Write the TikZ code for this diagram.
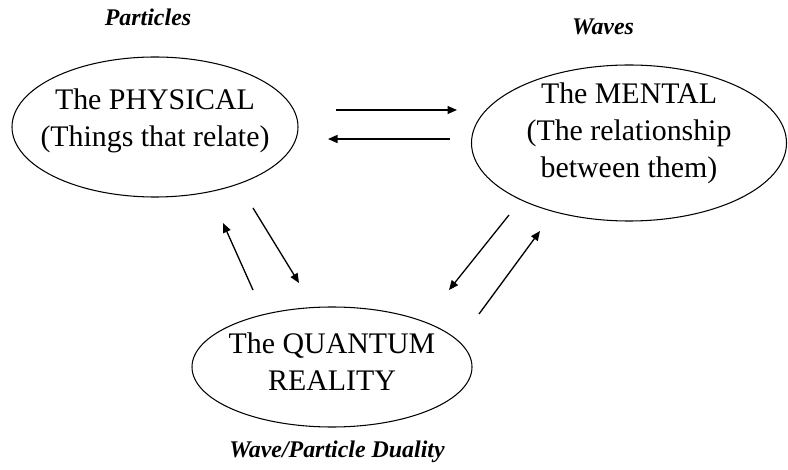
\documentclass[tikz,border=0pt]{standalone}
\usepackage{fontspec}
\setmainfont{Liberation Serif}
\usepackage{tikz}
\usetikzlibrary{shapes.geometric, positioning, arrows.meta}
\definecolor{InkBlack}{RGB}{0,0,0}

\begin{document}
\begin{tikzpicture}[
    oval/.style={ellipse, draw=InkBlack, line width=0.6pt, inner sep=0pt},
    bigtxt/.style={align=center, font=\fontsize{17}{21}\selectfont, inner sep=0pt},
    tag/.style={font=\fontsize{13.6}{16}\selectfont\bfseries\itshape, inner sep=0pt},
    arr/.style={-{Triangle[length=0.19cm, width=0.16cm]}, line width=0.75pt, InkBlack}
  ]
  \useasboundingbox (0,0) rectangle (15.76,9.38);
  % the three ovals
  \node[oval, minimum width=5.72cm, minimum height=2.80cm] (phys) at (3.10,6.84) {};
  \node[oval, minimum width=6.30cm, minimum height=3.12cm] (ment) at (12.58,6.52) {};
  \node[oval, minimum width=5.60cm, minimum height=2.40cm] (quant) at (6.64,2.04) {};
  \node[bigtxt] (physT) at ([yshift=0.13cm]phys.center)
        {The PHYSICAL\\(Things that relate)};
  \node[bigtxt] (mentT) at ([yshift=0.20cm]ment.center)
        {The MENTAL\\(The relationship\\ between them)};
  \node[bigtxt] (quantT) at ([yshift=0.10cm]quant.center)
        {The QUANTUM\\REALITY};
  % headings
  \node[tag] (partT) at (2.96,9.04) {Particles};
  \node[tag] (waveT) at (12.06,8.84) {Waves};
  \node[tag] (dualT) at (6.74,0.34) {Wave/Particle Duality};
  % arrow ends
  \coordinate (pm1) at (6.72,7.18); \coordinate (pm2) at (9.14,7.18);
  \coordinate (mp1) at (9.00,6.60); \coordinate (mp2) at (6.56,6.60);
  \coordinate (qp1) at (5.06,3.58); \coordinate (qp2) at (4.46,4.92);
  \coordinate (pq1) at (5.06,5.22); \coordinate (pq2) at (5.98,3.72);
  \coordinate (mq1) at (10.18,5.08); \coordinate (mq2) at (8.98,3.58);
  \coordinate (qm1) at (9.58,3.10); \coordinate (qm2) at (10.80,4.76);
  \foreach \s/\e in {pm1/pm2, mp1/mp2, qp1/qp2, pq1/pq2, mq1/mq2, qm1/qm2} {
    \draw[arr] (\s) -- (\e);
  }
\end{tikzpicture}
\end{document}
